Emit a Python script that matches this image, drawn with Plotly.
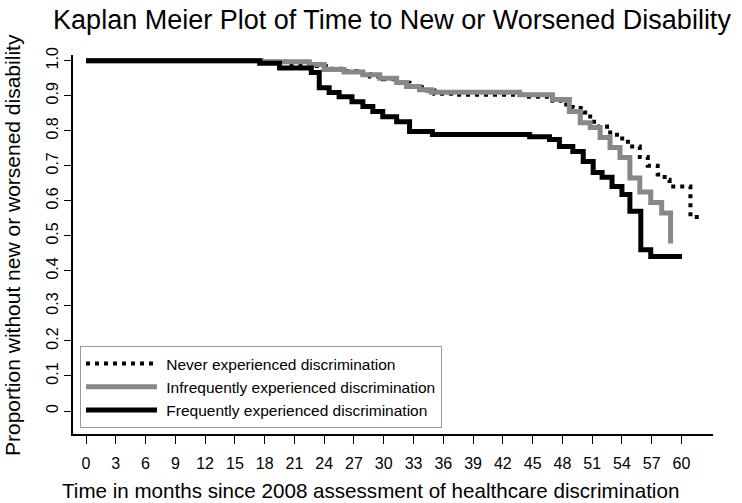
import plotly.graph_objects as go

# ---- data (months, Kaplan-Meier survival proportion) ----
never_t = [0, 17.8, 20.2, 22.5, 24.5, 26.0, 27.3, 28.6, 29.9, 31.3, 32.6, 34.1, 35.1, 37.6, 44.0,
           47.0, 48.0, 49.05, 50.1, 50.8, 51.5, 52.5, 53.5, 54.6, 55.8, 56.6, 57.6, 58.3, 58.8, 60.9, 61.9]
never_s = [1.0, 0.997, 0.99, 0.985, 0.977, 0.97, 0.962, 0.955, 0.947, 0.937, 0.925, 0.915, 0.906, 0.903, 0.897,
           0.886, 0.875, 0.865, 0.852, 0.826, 0.812, 0.795, 0.778, 0.755, 0.725, 0.70, 0.675, 0.66, 0.641, 0.554, 0.554]

infreq_t = [0, 17.7, 22.5, 24.0, 26.0, 27.9, 29.6, 31.3, 32.3, 33.6, 34.8, 43.7, 47.0, 48.7,
            49.8, 50.8, 51.8, 52.8, 53.8, 54.8, 55.8, 56.9, 58.0, 58.9]
infreq_s = [1.0, 0.997, 0.989, 0.975, 0.968, 0.96, 0.95, 0.938, 0.926, 0.917, 0.91, 0.903, 0.889, 0.855,
            0.823, 0.809, 0.781, 0.752, 0.724, 0.665, 0.625, 0.595, 0.565, 0.478]

freq_t = [0, 17.5, 19.5, 22.7, 23.5, 24.5, 25.5, 26.8, 27.9, 28.9, 29.9, 31.3, 32.6, 34.9, 44.7,
          46.7, 47.7, 49.05, 50.1, 51.1, 52.0, 53.0, 54.0, 54.8, 55.9, 56.9, 60.05]
freq_s = [1.0, 0.993, 0.979, 0.966, 0.923, 0.909, 0.897, 0.883, 0.869, 0.855, 0.84, 0.826, 0.798, 0.789, 0.783,
          0.775, 0.755, 0.741, 0.712, 0.681, 0.667, 0.641, 0.618, 0.57, 0.46, 0.441, 0.441]

x_ticks = list(range(0, 61, 3))
y_ticks = [0, 0.1, 0.2, 0.3, 0.4, 0.5, 0.6, 0.7, 0.8, 0.9, 1.0]
y_tick_text = ["0", "0.1", "0.2", "0.3", "0.4", "0.5", "0.6", "0.7", "0.8", "0.9", "1.0"]

FONT = "Liberation Sans, Arial, sans-serif"
NB = "\u00a0"

# plot area in pixels: x 73..713, y 55..434
L, R, T, B = 73, 713, 55, 434
PW, PH = R - L, B - T

fig = go.Figure()
fig.add_trace(go.Scatter(x=never_t, y=never_s, mode="lines", line_shape="hv",
                         name=NB + "Never experienced discrimination", legendgroup="a",
                         line=dict(color="black", width=4, dash="4px,5px")))
fig.add_trace(go.Scatter(x=infreq_t, y=infreq_s, mode="lines", line_shape="hv",
                         name=NB + "Infrequently experienced discrimination", legendgroup="b",
                         line=dict(color="#888888", width=5)))
fig.add_trace(go.Scatter(x=freq_t, y=freq_s, mode="lines", line_shape="hv",
                         name=NB + "Frequently experienced discrimination", legendgroup="c",
                         line=dict(color="black", width=5)))

fig.update_layout(
    width=742, height=503,
    margin=dict(l=L, r=742 - R, t=T, b=503 - B, autoexpand=False),
    paper_bgcolor="white", plot_bgcolor="white",
    font=dict(family=FONT, color="black", size=16),
    title=dict(text="Kaplan Meier Plot of Time to New or Worsened Disability",
               x=392 / 742, xanchor="center", y=1 - 20 / 503, yanchor="middle",
               font=dict(size=27, family=FONT, color="black")),
    showlegend=True,
    legend=dict(x=(80 - L) / PW, xanchor="left", y=(B - 346) / PH, yanchor="top",
                bordercolor="#999999", borderwidth=1, bgcolor="white",
                font=dict(size=15.5, family=FONT, color="black"),
                itemwidth=71, tracegroupgap=0),
    annotations=[
        dict(text="Time in months since 2008 assessment of healthcare discrimination",
             xref="paper", yref="paper", x=(370 - L) / PW, y=-(490 - B) / PH,
             xanchor="center", yanchor="middle", showarrow=False,
             font=dict(size=20.6, family=FONT, color="black")),
        dict(text="Proportion without new or worsened disability",
             xref="paper", yref="paper", x=-(L - 12) / PW, y=(B - 245) / PH,
             xanchor="center", yanchor="middle", showarrow=False, textangle=-90,
             font=dict(size=21, family=FONT, color="black")),
    ],
)
x0, x60 = 86.0, 681.5
ppm = (x60 - x0) / 60
fig.update_xaxes(range=[(L - x0) / ppm, (R - x0) / ppm], tickvals=x_ticks,
                 ticktext=[str(v) for v in x_ticks], automargin=False,
                 showgrid=False, zeroline=False, showline=True, linecolor="black", linewidth=2,
                 ticks="outside", ticklen=8, tickcolor="black", tickwidth=1,
                 ticklabelstandoff=6,
                 tickfont=dict(size=16, family=FONT))
y1, y0 = 60.7, 411.0
ppu = y0 - y1
fig.update_yaxes(range=[(y0 - B) / ppu, (y0 - T) / ppu], tickvals=y_ticks, ticktext=y_tick_text,
                 automargin=False,
                 showgrid=False, zeroline=False, showline=True, linecolor="black", linewidth=2,
                 ticks="outside", ticklen=7, tickcolor="black", tickwidth=1, tickangle=-90,
                 tickfont=dict(size=16, family=FONT))

fig.write_html("out.html", config={"displayModeBar": False},
               post_script="document.body.style.margin='0px';")
